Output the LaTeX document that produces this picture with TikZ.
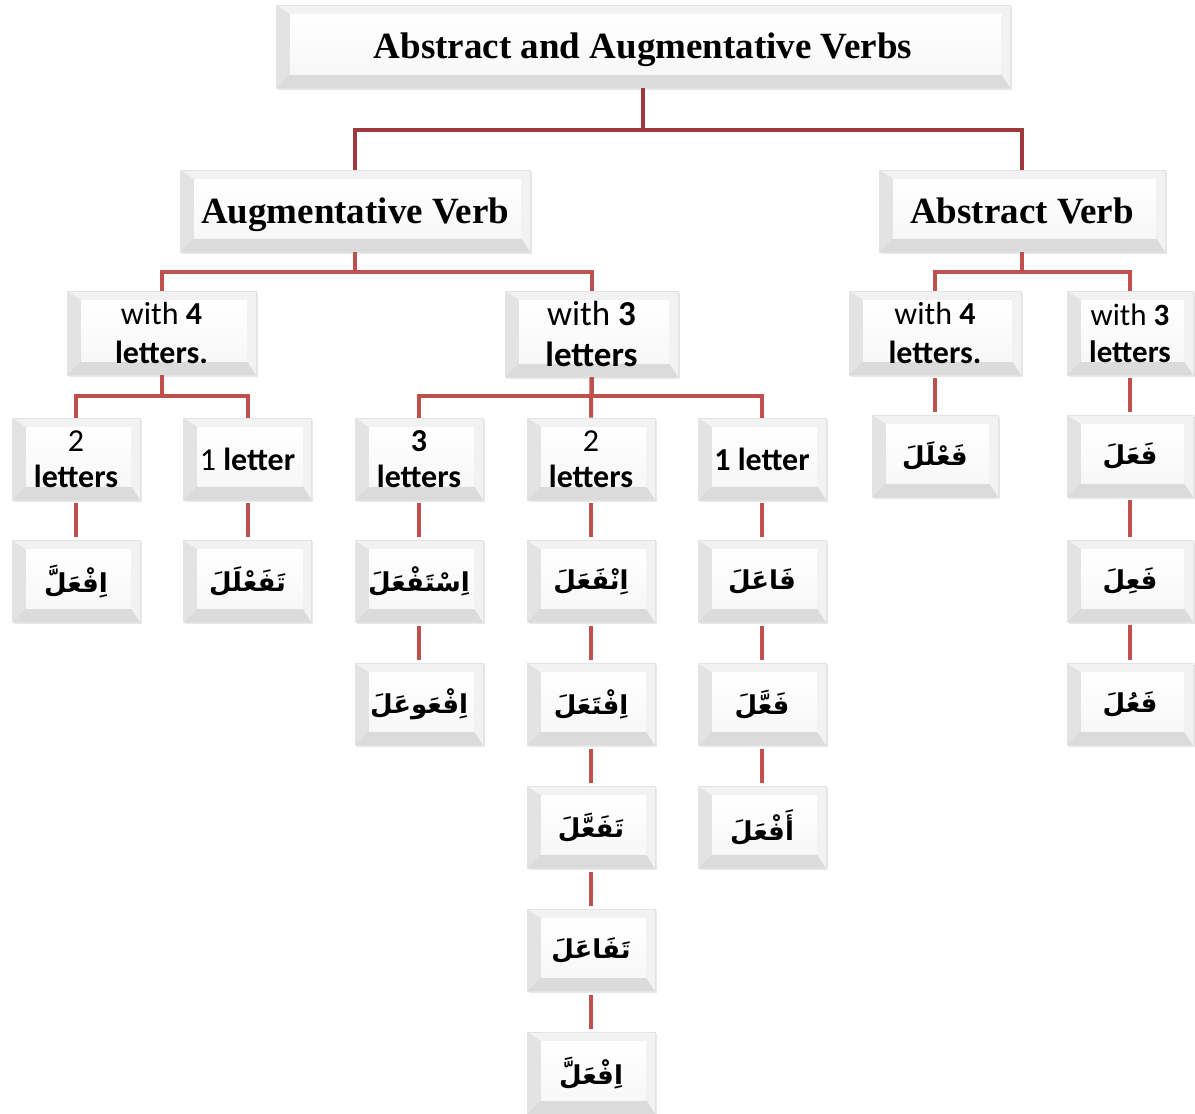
\documentclass[tikz,border=0pt]{standalone}
\usepackage{fontspec}
\setmainfont{Carlito}
\newfontfamily\ttlfont{Liberation Serif}
\newfontfamily\arabicfont[Script=Arabic]{DejaVu Sans}
\TeXXeTstate=1
\usetikzlibrary{shadows}
\definecolor{conA}{RGB}{158,56,58}
\definecolor{conB}{RGB}{192,80,77}
\newcommand\arw[1]{{\arabicfont\bfseries\fontsize{26}{30}\selectfont\beginR #1\endR}}
\tikzset{
  bev/.style={rectangle, draw=gray!22, line width=0.8pt, fill=gray!10, align=center, inner sep=0pt,
    drop shadow={shadow xshift=1.5pt, shadow yshift=-1.5pt, opacity=0.18},
    path picture={
      \fill[gray!22] (path picture bounding box.south west) -- (path picture bounding box.north west)
        -- ([shift={(14pt,-9pt)}]path picture bounding box.north west)
        -- ([shift={(14pt,14pt)}]path picture bounding box.south west) -- cycle;
      \fill[gray!28] (path picture bounding box.south west)
        -- ([shift={(14pt,14pt)}]path picture bounding box.south west)
        -- ([shift={(-9pt,14pt)}]path picture bounding box.south east)
        -- (path picture bounding box.south east) -- cycle;
      \fill[top color=white, bottom color=gray!6] ([shift={(14pt,14pt)}]path picture bounding box.south west)
        rectangle ([shift={(-9pt,-9pt)}]path picture bounding box.north east);
    }},
  big/.style={bev, font=\ttlfont\bfseries\fontsize{37}{42}\selectfont, text height=26pt, text depth=2pt},
  mid/.style={bev, font=\fontsize{32}{39}\selectfont},
  leaf/.style={bev, minimum width=128pt, minimum height=82pt, font=\fontsize{32}{36}\selectfont},
  cA/.style={draw=conA, line width=4pt},
  cB/.style={draw=conB, line width=4pt},
  cS/.style={draw=conB, line width=4pt, shorten <=3pt, shorten >=3pt}
}
\begin{document}
\begin{tikzpicture}[x=1pt,y=1pt]
\useasboundingbox (0,0) rectangle (1195,-1114);
% level 0/1
\node[big, minimum width=734pt, minimum height=83pt] (top) at (643,-46.5) {Abstract and Augmentative Verbs};
\node[big, minimum width=350pt, minimum height=82pt] (aug) at (355,-211) {Augmentative Verb};
\node[big, minimum width=286pt, minimum height=82pt] (abs) at (1022,-211) {Abstract Verb};
% level 2
\node[mid, minimum width=189pt, minimum height=84pt] (w4L) at (161.5,-333) {with \textbf{4}\\\textbf{letters.}};
\node[mid, minimum width=173pt, minimum height=86pt, font=\fontsize{35}{41}\selectfont] (w3M) at (591.5,-334) {with \textbf{3}\\\textbf{letters}};
\node[mid, minimum width=172pt, minimum height=84pt] (w4R) at (935,-333) {with \textbf{4}\\\textbf{letters.}};
\node[mid, minimum width=126pt, minimum height=84pt, font=\fontsize{31}{37}\selectfont] (w3R) at (1130,-333) {with \textbf{3}\\\textbf{letters}};
% level 3
\node[leaf] (l2) at (76,-459) {2\\\textbf{letters}};
\node[leaf] (l1) at (247.5,-459) {1 \textbf{letter}};
\node[leaf] (m3) at (419,-459) {\textbf{3}\\\textbf{letters}};
\node[leaf] (m2) at (591,-459) {2\\\textbf{letters}};
\node[leaf] (m1) at (762,-459) {\textbf{1 letter}};
\node[leaf, minimum width=126pt] (a4) at (935,-456) {\arw{فَعْلَلَ}};
\node[leaf, minimum width=126pt] (a3a) at (1130,-456) {\arw{فَعَلَ}};
% level 4
\node[leaf] (l2a) at (76,-581.5) {\arw{اِفْعَلَّ}};
\node[leaf] (l1a) at (247.5,-581.5) {\arw{تَفَعْلَلَ}};
\node[leaf] (m3a) at (419,-581.5) {\arw{اِسْتَفْعَلَ}};
\node[leaf] (m2a) at (591,-581.5) {\arw{اِنْفَعَلَ}};
\node[leaf] (m1a) at (762,-581.5) {\arw{فَاعَلَ}};
\node[leaf, minimum width=126pt] (a3b) at (1130,-581) {\arw{فَعِلَ}};
% level 5
\node[leaf] (m3b) at (419,-704.5) {\arw{اِفْعَوعَلَ}};
\node[leaf] (m2b) at (591,-704.5) {\arw{اِفْتَعَلَ}};
\node[leaf] (m1b) at (762,-704.5) {\arw{فَعَّلَ}};
\node[leaf, minimum width=126pt] (a3c) at (1130,-704.5) {\arw{فَعُلَ}};
% level 6-8
\node[leaf] (m2c) at (591,-827.5) {\arw{تَفَعَّلَ}};
\node[leaf] (m1c) at (762,-827.5) {\arw{أَفْعَلَ}};
\node[leaf] (m2d) at (591,-950.5) {\arw{تَفَاعَلَ}};
\node[leaf] (m2e) at (591,-1073) {\arw{اِفْعَلَّ}};
% connectors
\draw[cA] (top.south) -- ++(0,-42) -| (aug.north);
\draw[cA] (top.south) -- ++(0,-42) -| (abs.north);
\draw[cB] (aug.south) -- ++(0,-20) -| (w4L.north);
\draw[cB] (aug.south) -- ++(0,-20) -| (w3M.north);
\draw[cB] (abs.south) -- ++(0,-20) -| (w4R.north);
\draw[cB] (abs.south) -- ++(0,-20) -| (w3R.north);
\draw[cB] (w4L.south) -- ++(0,-21) -| (l2.north);
\draw[cB] (w4L.south) -- ++(0,-21) -| (l1.north);
\draw[cB] (w3M.south) -- ++(0,-19) -| (m3.north);
\draw[cB] (w3M.south) -- (m2.north);
\draw[cB] (w3M.south) -- ++(0,-19) -| (m1.north);
\draw[cS] (w4R.south) -- (a4.north);
\draw[cS] (w3R.south) -- (a3a.north);
\draw[cS] (a3a.south) -- (a3b.north);
\draw[cS] (a3b.south) -- (a3c.north);
\draw[cS] (l2.south) -- (l2a.north);
\draw[cS] (l1.south) -- (l1a.north);
\draw[cS] (m3.south) -- (m3a.north);
\draw[cS] (m3a.south) -- (m3b.north);
\draw[cS] (m2.south) -- (m2a.north);
\draw[cS] (m2a.south) -- (m2b.north);
\draw[cS] (m2b.south) -- (m2c.north);
\draw[cS] (m2c.south) -- (m2d.north);
\draw[cS] (m2d.south) -- (m2e.north);
\draw[cS] (m1.south) -- (m1a.north);
\draw[cS] (m1a.south) -- (m1b.north);
\draw[cS] (m1b.south) -- (m1c.north);
\end{tikzpicture}
\end{document}
